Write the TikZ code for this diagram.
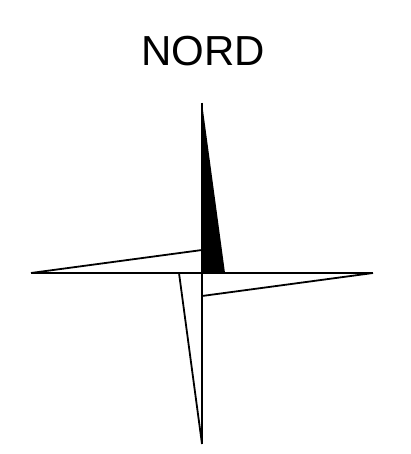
\documentclass[tikz,border=0pt]{standalone}
\usepackage{fontspec}
\setmainfont{Liberation Sans}
\begin{document}
\begin{tikzpicture}[x=1pt,y=-1pt,line join=miter,
  ln/.style={draw=black,line width=1.8pt},
  lbl/.style={font=\fontsize{42}{45}\selectfont,text=black,inner sep=0pt}]
\useasboundingbox (0,0) rectangle (410,454);
\node[lbl] (title) at (203.5,51.5) {NORD};
\coordinate (n) at (202,103);
\coordinate (s) at (202,444);
\coordinate (w) at (31,273);
\coordinate (e) at (373,273);
\coordinate (c) at (202,273);
\coordinate (ne) at (225,273);
\coordinate (nw) at (202,250);
\coordinate (es) at (202,296);
\coordinate (sw) at (179,273);
\fill[black] (n) -- (ne) -- (c) -- cycle;
\draw[ln] (n) -- (s);
\draw[ln] (w) -- (e);
\draw[ln] (w) -- (nw);
\draw[ln] (e) -- (es);
\draw[ln] (s) -- (sw);
\end{tikzpicture}
\end{document}
